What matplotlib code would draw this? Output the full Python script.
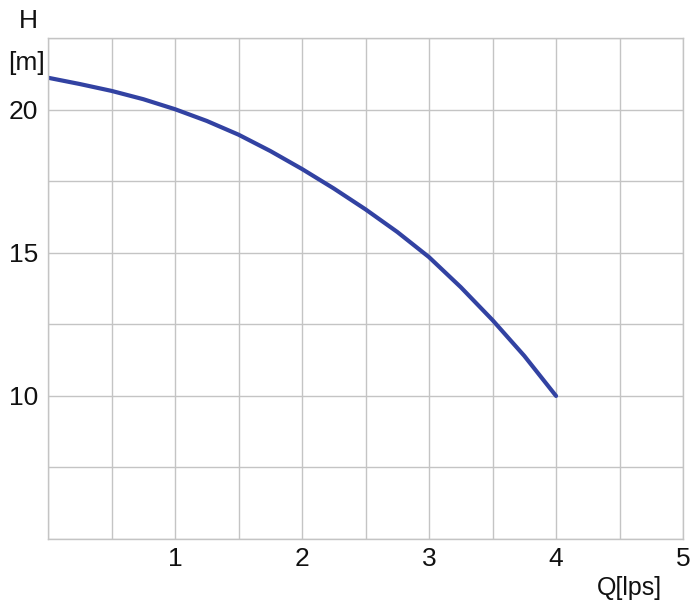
import matplotlib
matplotlib.use("Agg")
import matplotlib.pyplot as plt
import numpy as np

plt.rcParams['font.family'] = ['Liberation Sans', 'DejaVu Sans']

# pump curve
flow = [0, 0.25, 0.5, 0.75, 1, 1.25, 1.5, 1.75, 2, 2.25, 2.5, 2.75, 3, 3.25, 3.5, 3.75, 4]
head = [21.12, 20.9, 20.66, 20.37, 20.02, 19.61, 19.13, 18.56, 17.93, 17.25, 16.52,
        15.73, 14.85, 13.8, 12.65, 11.4, 10.0]

x_ticks = [1, 2, 3, 4, 5]
x_ticklabels = ["1", "2", "3", "4", "5"]
y_ticks = [10, 15, 20]
y_ticklabels = ["10", "15", "20"]

fig = plt.figure(figsize=(6.91, 6.07), dpi=100)
ax = fig.add_axes([0.0695, 0.112, 0.919, 0.825])

ax.plot(flow, head, color="#3242a2", linewidth=3, solid_capstyle="round",
        solid_joinstyle="round")

ax.set_xlim(0, 5)
ax.set_ylim(5, 22.5)

ax.set_xticks(np.arange(0, 5.01, 0.5), minor=True)
ax.set_yticks(np.arange(5, 22.51, 2.5), minor=True)
ax.set_xticks(x_ticks)
ax.set_xticklabels(x_ticklabels)
ax.set_yticks(y_ticks)
ax.set_yticklabels(y_ticklabels)
ax.grid(which="both", color="#c4c4c4", linewidth=1.0)
ax.set_axisbelow(True)

ax.tick_params(which="both", length=0, labelsize=19, colors="#111111")
ax.tick_params(axis="x", pad=6)
ax.tick_params(axis="y", pad=7)

for s in ax.spines.values():
    s.set_color("#c4c4c4")
    s.set_linewidth(1.0)

fig.text(28 / 691, 1 - 21 / 607, "H", fontsize=19, ha="center", va="center", color="#111111")
fig.text(26 / 691, 1 - 63 / 607, "[m]", fontsize=19, ha="center", va="center", color="#111111")
fig.text(629 / 691, 1 - 588 / 607, "Q[lps]", fontsize=18, ha="center", va="center", color="#111111")

fig.savefig("out.png", dpi=100)
